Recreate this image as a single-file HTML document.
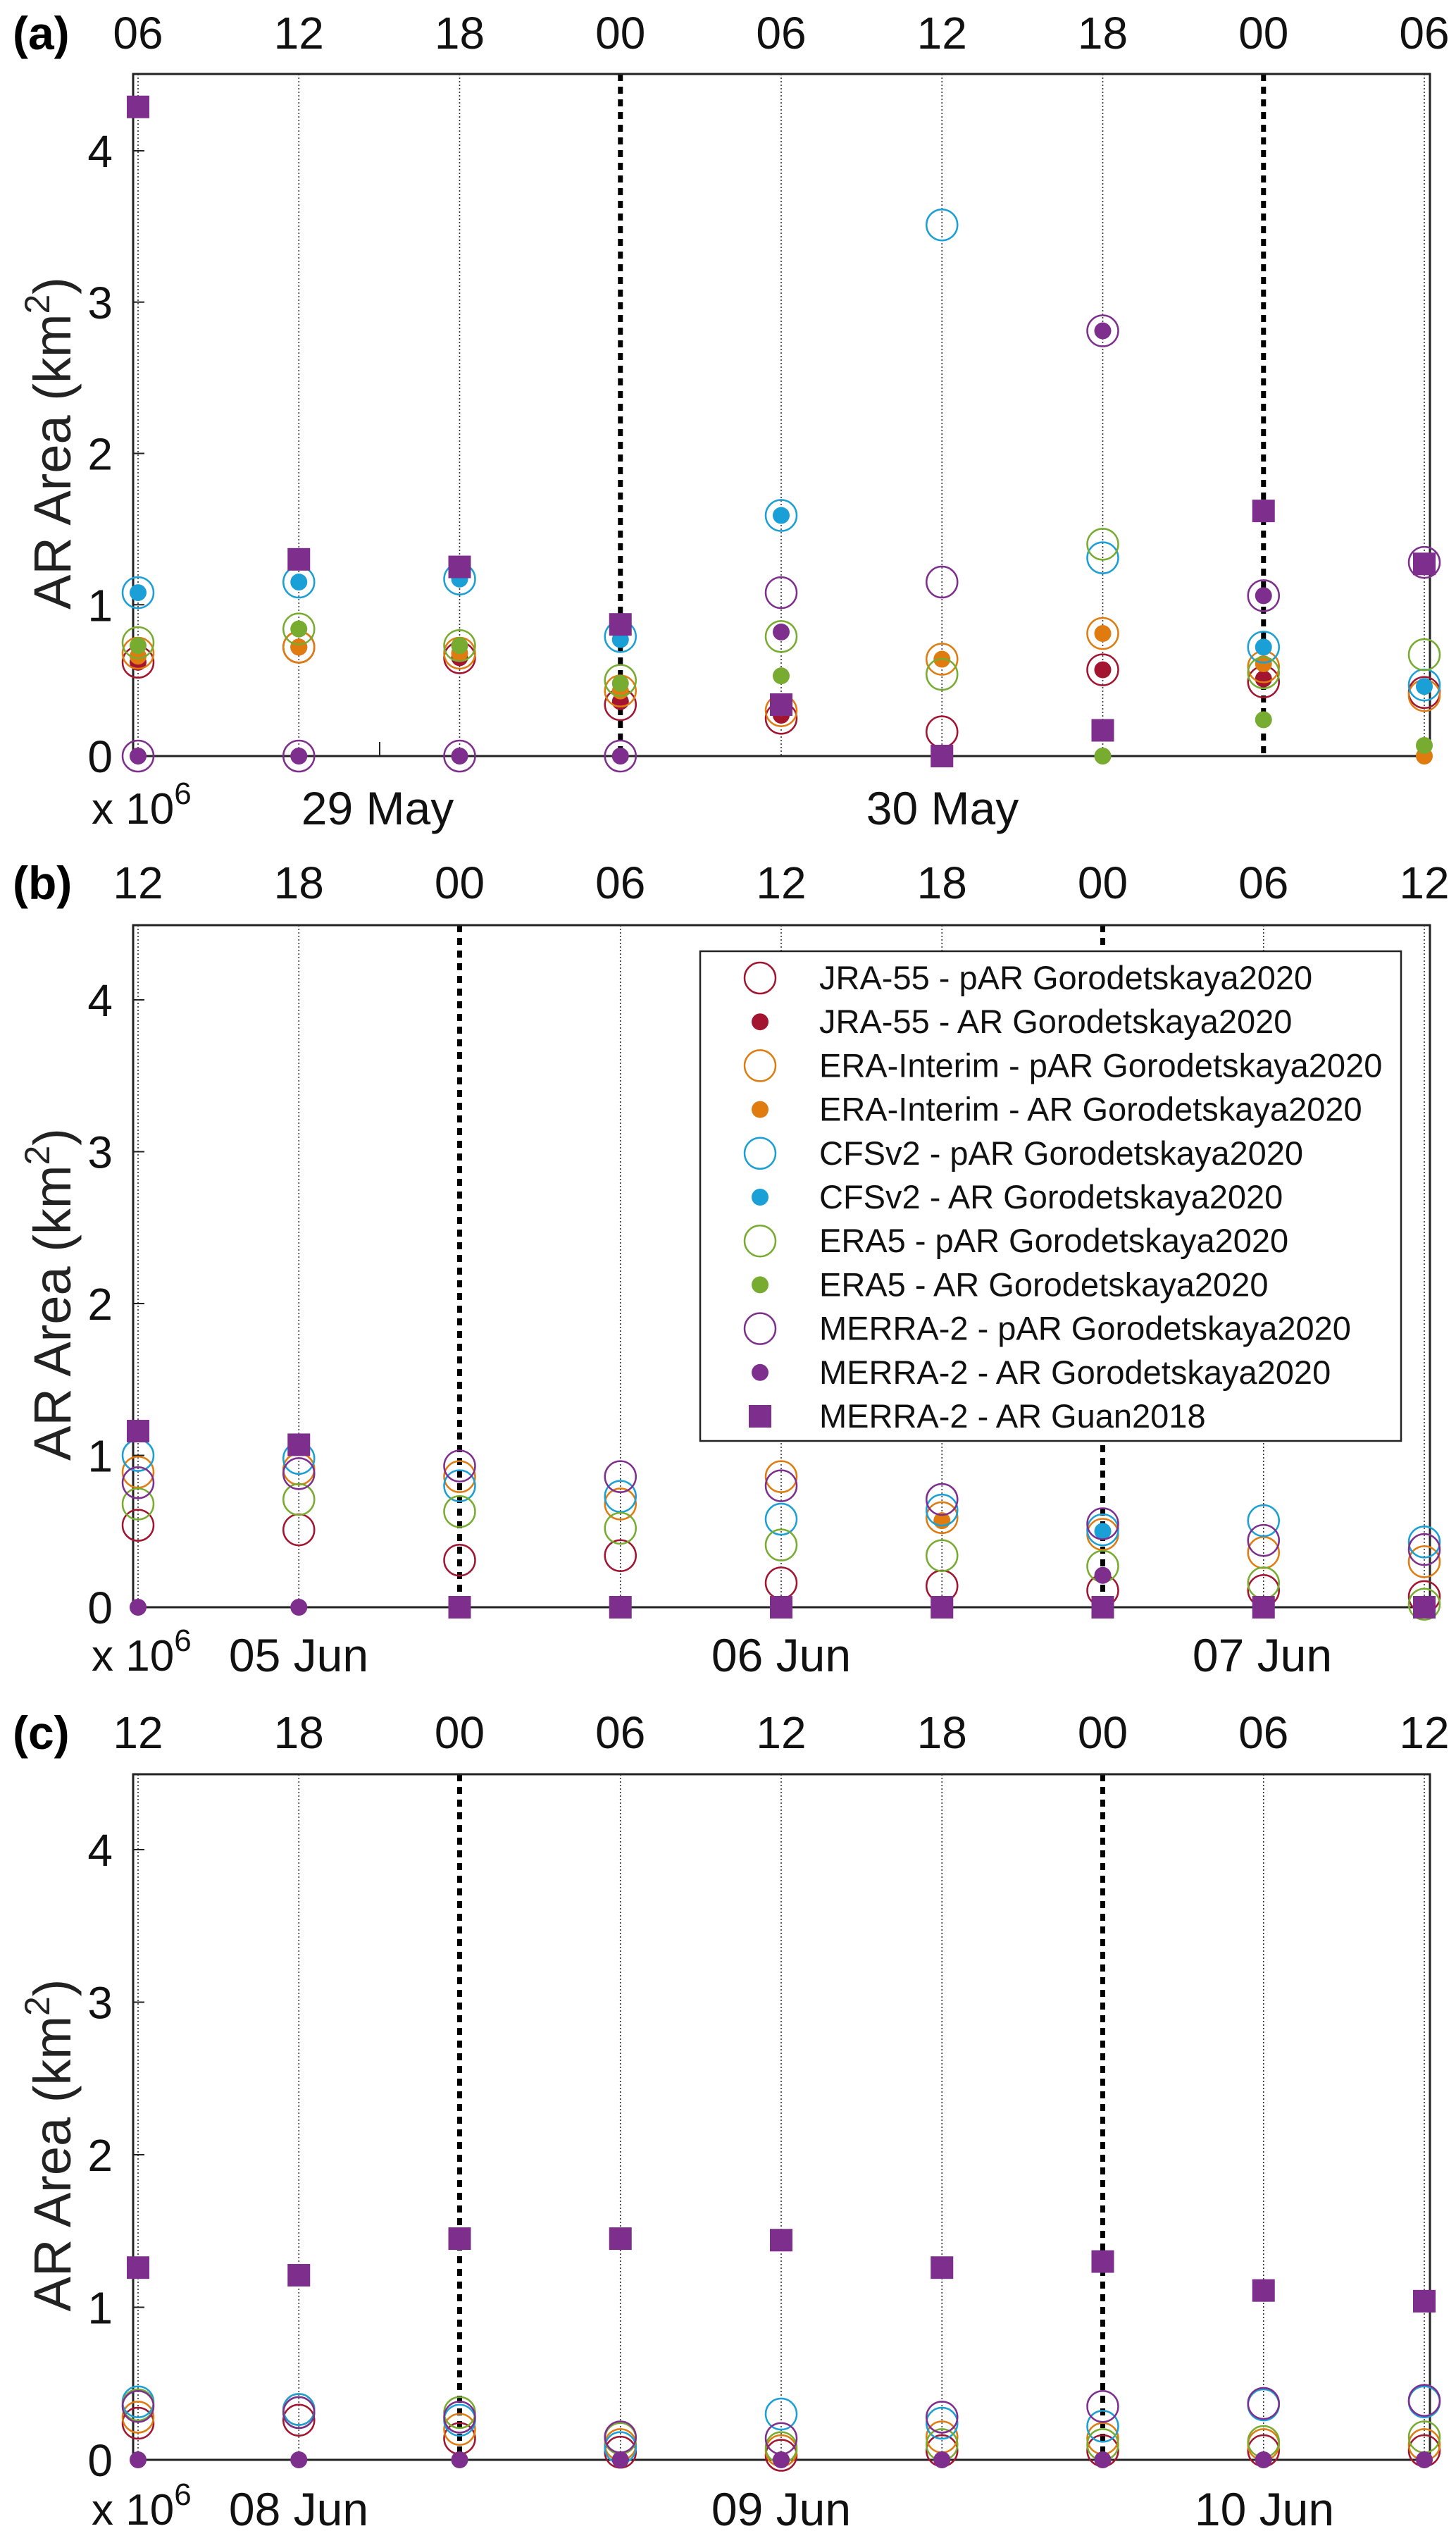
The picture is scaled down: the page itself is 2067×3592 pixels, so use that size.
<!DOCTYPE html>
<html><head><meta charset="utf-8"><style>
html,body{margin:0;padding:0;background:#fff}
svg{display:block;font-family:"Liberation Sans",Arial,sans-serif}
</style></head><body>
<svg id="chart" width="2067" height="3592" viewBox="0 0 2067 3592" xmlns="http://www.w3.org/2000/svg"></svg>
<script>
// ---- data ----
const panelLetters = ["(a)","(b)","(c)"];
const hourLabelsA = ["06","12","18","00","06","12","18","00","06"];
const hourLabelsB = ["12","18","00","06","12","18","00","06","12"];
const hourLabelsC = ["12","18","00","06","12","18","00","06","12"];
const dateLabelsA = ["29 May","30 May"];
const dateLabelsB = ["05 Jun","06 Jun","07 Jun"];
const dateLabelsC = ["08 Jun","09 Jun","10 Jun"];
const yTicks = [0,1,2,3,4];
const seriesNames = ["JRA-55","ERA-Interim","CFSv2","ERA5","MERRA-2"];
// panel a
const a_jra_p = [0.62,0.72,0.65,0.34,0.25,0.16,0.57,0.49,0.42];
const a_jra_f = [0.62,0.72,0.65,0.36,0.27,null,0.57,0.51,null];
const a_eri_p = [0.68,0.72,0.68,0.43,0.30,0.64,0.81,0.59,0.40];
const a_eri_f = [0.66,0.72,0.68,0.43,0.32,0.64,0.81,0.61,0];
const a_cfs_p = [1.08,1.15,1.17,0.79,1.59,3.51,1.31,0.72,0.47];
const a_cfs_f = [1.08,1.15,1.17,0.77,1.59,null,null,0.72,0.46];
const a_era5_p = [0.75,0.84,0.73,0.50,0.79,0.54,1.40,0.55,0.67];
const a_era5_f = [0.73,0.84,0.73,0.48,0.53,null,0,0.24,0.07];
const a_mer_p = [0,0,0,0,1.08,1.15,2.81,1.06,1.28];
const a_mer_f = [0,0,0,0,0.82,null,2.81,1.06,null];
const a_guan = [4.29,1.30,1.25,0.87,0.34,0,0.17,1.62,1.27];
// panel b
const b_jra_p = [0.54,0.51,0.31,0.34,0.16,0.14,0.11,0.11,0.07];
const b_jra_f = [null,null,null,null,null,null,null,null,null];
const b_eri_p = [0.89,0.91,0.86,0.68,0.86,0.59,0.48,0.36,0.30];
const b_eri_f = [null,null,null,null,null,0.57,null,null,null];
const b_cfs_p = [1.00,0.98,0.80,0.73,0.58,0.64,0.51,0.57,0.43];
const b_cfs_f = [null,null,null,null,null,null,0.50,null,null];
const b_era5_p = [0.68,0.71,0.63,0.52,0.41,0.34,0.27,0.16,0.02];
const b_era5_f = [null,null,null,null,null,null,null,null,null];
const b_mer_p = [0.82,0.88,0.93,0.86,0.80,0.71,0.55,0.44,0.38];
const b_mer_f = [0,0,null,null,null,null,0.21,null,null];
const b_guan = [1.16,1.07,0,0,0,0,0,0,0];
// panel c
const c_jra_p = [0.24,0.26,0.14,0.05,0.03,0.06,0.06,0.06,0.06];
const c_jra_f = [null,null,null,null,null,null,null,null,null];
const c_eri_p = [0.28,0.33,0.20,0.10,0.06,0.15,0.14,0.10,0.10];
const c_eri_f = [null,null,null,null,null,null,null,null,null];
const c_cfs_p = [0.38,0.33,0.26,0.08,0.30,0.24,0.22,0.36,0.38];
const c_cfs_f = [null,null,null,null,null,null,null,null,null];
const c_era5_p = [0.36,0.31,0.31,0.14,0.08,0.10,0.10,0.12,0.15];
const c_era5_f = [null,null,null,null,null,null,null,null,null];
const c_mer_p = [0.35,0.31,0.28,0.15,0.14,0.28,0.35,0.37,0.39];
const c_mer_f = [0,0,0,0,0,0,0,0,0];
const c_guan = [1.26,1.21,1.45,1.45,1.44,1.26,1.30,1.11,1.04];

const colors = ["#A2142F","#E07B10","#1A9FD6","#77AC30","#7E2F8E"];
const NS = "http://www.w3.org/2000/svg";
const svg = document.getElementById("chart");
function mk(tag, attrs, parent){const e=document.createElementNS(NS,tag);for(const k in attrs)e.setAttribute(k,attrs[k]);(parent||svg).appendChild(e);return e;}

const panels = [
 {top:105, zero:1073, unit:214.75, hours:hourLabelsA, dates:dateLabelsA, dateX:[536,1338], labY:46, botY:1146,
  sets:[[a_jra_p,a_jra_f],[a_eri_p,a_eri_f],[a_cfs_p,a_cfs_f],[a_era5_p,a_era5_f],[a_mer_p,a_mer_f]], guan:a_guan, zeroDays:[3,7]},
 {top:1313, zero:2281, unit:215.5, hours:hourLabelsB, dates:dateLabelsB, dateX:[424,1109,1792], labY:1252, botY:2348,
  sets:[[b_jra_p,b_jra_f],[b_eri_p,b_eri_f],[b_cfs_p,b_cfs_f],[b_era5_p,b_era5_f],[b_mer_p,b_mer_f]], guan:b_guan, zeroDays:[2,6]},
 {top:2518, zero:3491, unit:216.5, hours:hourLabelsC, dates:dateLabelsC, dateX:[424,1109,1795], labY:2458, botY:3560,
  sets:[[c_jra_p,c_jra_f],[c_eri_p,c_eri_f],[c_cfs_p,c_cfs_f],[c_era5_p,c_era5_f],[c_mer_p,c_mer_f]], guan:c_guan, zeroDays:[2,6]}
];
const L=189, R=2030, X0=196, DX=228.25;
function xs(i){return X0+i*DX;}

panels.forEach((p,pi)=>{
  const g = mk("g",{});
  
  
  const ys = v => p.zero - v*p.unit;
  p.hours.forEach((h,i)=>{
    const thick = p.zeroDays.includes(i);
    const ln = mk("line",{x1:xs(i),x2:xs(i),y1:p.top,y2:p.zero,stroke:thick?"#000":"#333","stroke-width":thick?7:1.6,"stroke-dasharray":thick?"10 8":"2 3"},g);
    
    
    const t = mk("text",{x:xs(i),y:p.labY+23,"font-size":64,"text-anchor":"middle",fill:"#111"},g);
    t.textContent=h;
    
    
  });
  const fr = mk("path",{d:`M${L},${p.zero} L${L},${p.top} L${R},${p.top} L${R},${p.zero}`,fill:"none",stroke:"#222","stroke-width":3},g);
  
  
  const zl = mk("line",{x1:L,x2:R,y1:p.zero,y2:p.zero,stroke:"#222","stroke-width":3},g);
  
  
  if(pi===0){ mk("line",{x1:539,x2:539,y1:p.zero,y2:p.zero-20,stroke:"#222","stroke-width":2},g); }
  yTicks.forEach(v=>{
    mk("line",{x1:L,x2:L+16,y1:ys(v),y2:ys(v),stroke:"#222","stroke-width":2},g);
    const t = mk("text",{x:160,y:ys(v)+23,"font-size":64,"text-anchor":"end",fill:"#111"},g);
    t.textContent=v;
    
    
  });
  const pl = mk("text",{x:18,y:p.labY+24,"font-size":66,"font-weight":"bold",fill:"#000"},g);
  pl.textContent=panelLetters[pi];
  
  
  const cy = (p.top+p.zero)/2 + 40;
  const yt = mk("text",{x:0,y:0,"font-size":74,"text-anchor":"middle",fill:"#222",transform:`translate(100,${cy}) rotate(-90)`},g);
  yt.innerHTML = 'AR Area (km<tspan dy="-30" font-size="50">2</tspan><tspan dy="30">)</tspan>';
  
  
  const ex = mk("text",{x:130,y:p.botY+23,"font-size":62,fill:"#111"},g);
  ex.innerHTML='x 10<tspan dy="-28" font-size="44">6</tspan>';
  
  
  p.dates.forEach((d,i)=>{
    const t = mk("text",{x:p.dateX[i],y:p.botY+24,"font-size":66,"text-anchor":"middle",fill:"#111"},g);
    t.textContent=d;
    
    
  });
  p.sets.forEach((s,si)=>{
    s[0].forEach((v,i)=>{ if(v===null) return;
      const c = mk("circle",{cx:xs(i),cy:ys(v),r:22,fill:"none",stroke:colors[si],"stroke-width":2.5},g);
      
      
    });
    s[1].forEach((v,i)=>{ if(v===null) return;
      const c = mk("circle",{cx:xs(i),cy:ys(v),r:12,fill:colors[si]},g);
      
      
    });
  });
  p.guan.forEach((v,i)=>{
    const r = mk("rect",{x:xs(i)-16,y:ys(v)-16,width:32,height:32,fill:"#7E2F8E"},g);
    
    
  });
});

const legendLabels = ["JRA-55 - pAR Gorodetskaya2020","JRA-55 - AR Gorodetskaya2020","ERA-Interim - pAR Gorodetskaya2020","ERA-Interim - AR Gorodetskaya2020","CFSv2 - pAR Gorodetskaya2020","CFSv2 - AR Gorodetskaya2020","ERA5 - pAR Gorodetskaya2020","ERA5 - AR Gorodetskaya2020","MERRA-2 - pAR Gorodetskaya2020","MERRA-2 - AR Gorodetskaya2020","MERRA-2 - AR Guan2018"];
const lg = mk("g",{});


mk("rect",{x:994,y:1350,width:995,height:695,fill:"#fff",stroke:"#222","stroke-width":2.5},lg);
legendLabels.forEach((lab,i)=>{
  const y = 1388 + i*62.2;
  const si = Math.floor(i/2);
  if(i===10) mk("rect",{x:1063,y:y-16,width:32,height:32,fill:"#7E2F8E"},lg);
  else if(i%2===0) mk("circle",{cx:1079,cy:y,r:22,fill:"none",stroke:colors[si],"stroke-width":2.5},lg);
  else mk("circle",{cx:1079,cy:y,r:12,fill:colors[si]},lg);
  const t = mk("text",{x:1163,y:y+16,"font-size":47,fill:"#111"},lg);
  t.textContent=lab;
  
  
});
</script>
</body></html>
